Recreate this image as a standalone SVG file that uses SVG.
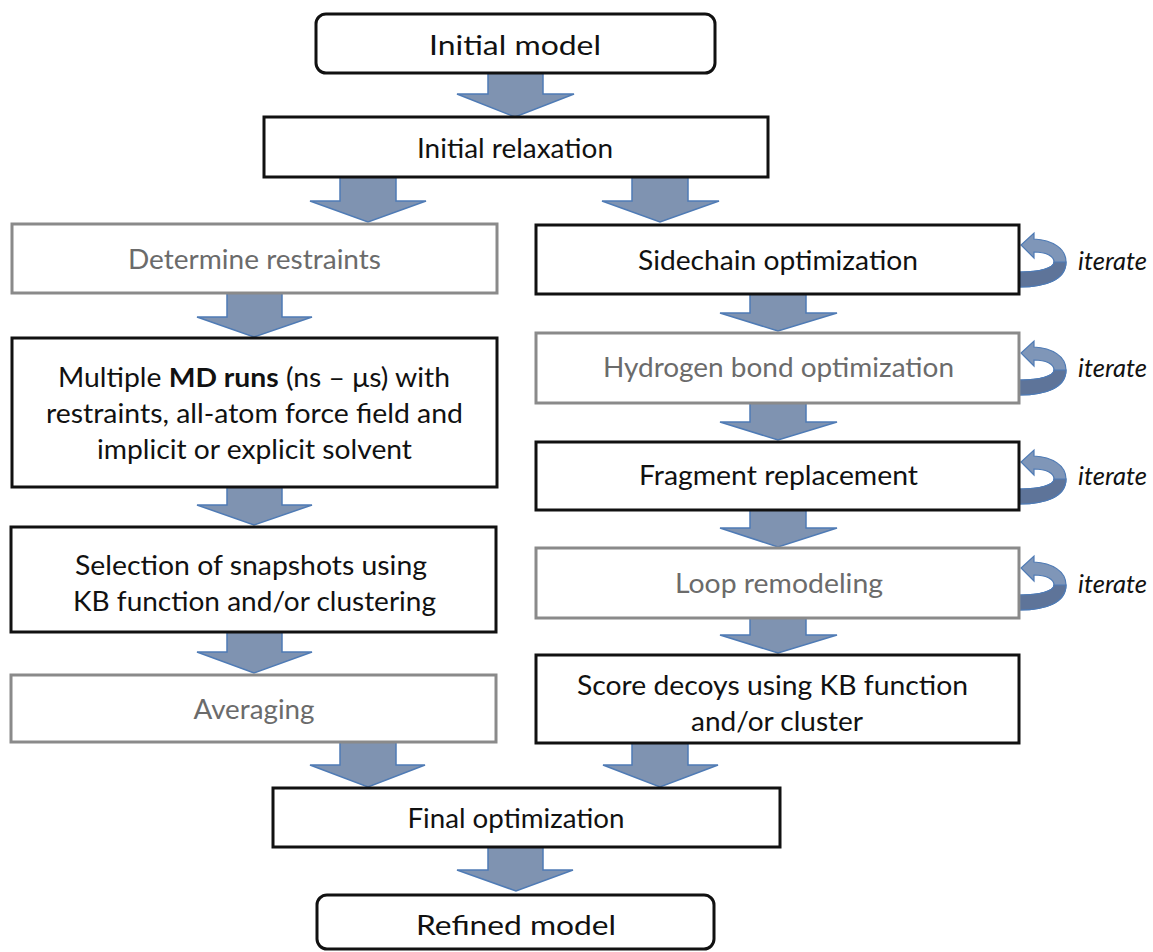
<svg xmlns="http://www.w3.org/2000/svg" xmlns:xlink="http://www.w3.org/1999/xlink" width="1153" height="952" viewBox="0 0 1153 952">
<style>
  .box { fill: #ffffff; stroke: #111111; stroke-width: 3; }
  .gbox { fill: #ffffff; stroke: #8a8a8a; stroke-width: 3; }
  .t { font-family: Lato, "Liberation Sans", sans-serif; font-size: 27px; fill: #111111; text-anchor: middle; }
  .g { fill: #6b6b6b; }
  .b { font-weight: bold; }
  .it { font-family: Lato, "Liberation Sans", sans-serif; font-size: 26px; font-style: italic; fill: #111111; }
  .arr { fill: #7f93b1; stroke: #4f7bb5; stroke-width: 1.5; stroke-linejoin: miter; }
  .loopL { fill: #7f96b8; stroke: #4f7bb5; stroke-width: 1.2; }
  .loopD { fill: #5e7499; stroke: #4f7bb5; stroke-width: 1.2; }
</style>
<defs>
  <g id="loop">
    <path class="loopL" d="M1020,287 C1045,287 1066,280 1066,262 C1066,248 1052,240 1034,239 L1034,233 L1021,245 L1034,258 L1034,252 C1046,252 1054,256 1054,262 C1054,268 1040,272 1020,272 Z"/>
    <path class="loopD" d="M1020,287 C1045,287 1066,280 1066,262 L1054,262 C1054,268 1040,272 1020,272 Z"/>
  </g>
</defs>

<g id="connectors">
  <polygon class="arr" points="488,73 543,73 543,94 574,94 515,117 457,94 488,94"/>
  <polygon class="arr" points="340,177 396,177 396,201 426,201 368,222 310,201 340,201"/>
  <polygon class="arr" points="632,177 688,177 688,201 719,201 660,222 602,201 632,201"/>
  <polygon class="arr" points="227,293 282,293 282,317 312,317 254,337 197,317 227,317"/>
  <polygon class="arr" points="227,487 282,487 282,505 312,505 254,525 197,505 227,505"/>
  <polygon class="arr" points="227,632 282,632 282,652 312,652 254,673 197,652 227,652"/>
  <polygon class="arr" points="750,294 806,294 806,313 837,313 778,331 720,313 750,313"/>
  <polygon class="arr" points="750,403 806,403 806,422 837,422 778,440 720,422 750,422"/>
  <polygon class="arr" points="750,510 806,510 806,528 837,528 778,547 720,528 750,528"/>
  <polygon class="arr" points="750,618 806,618 806,635 837,635 778,653 720,635 750,635"/>
  <polygon class="arr" points="340,742 396,742 396,765 425,765 368,787 310,765 340,765"/>
  <polygon class="arr" points="632,743 688,743 688,765 718,765 660,787 603,765 632,765"/>
  <polygon class="arr" points="488,847 543,847 543,870 573,870 516,891 457,870 488,870"/>
  <use xlink:href="#loop" href="#loop"/>
  <use xlink:href="#loop" href="#loop" transform="translate(0,108)"/>
  <use xlink:href="#loop" href="#loop" transform="translate(0,217)"/>
  <use xlink:href="#loop" href="#loop" transform="translate(0,323)"/>
</g>

<g id="initial-model">
  <rect class="box" x="316" y="14" width="399" height="59" rx="10"/>
  <text class="t" x="515" y="55" font-size="29" textLength="172" lengthAdjust="spacingAndGlyphs">Initial model</text>
</g>
<g id="initial-relaxation">
  <rect class="box" x="264" y="117" width="504" height="60"/>
  <text class="t" x="515" y="158" textLength="196" lengthAdjust="spacingAndGlyphs">Initial relaxation</text>
</g>
<g id="determine-restraints">
  <rect class="gbox" x="12" y="224" width="485" height="69"/>
  <text class="t g" x="254.5" y="269" textLength="253" lengthAdjust="spacingAndGlyphs">Determine restraints</text>
</g>
<g id="md-runs">
  <rect class="box" x="12" y="338" width="485" height="149"/>
  <text class="t" x="254" y="387" textLength="392" lengthAdjust="spacingAndGlyphs">Multiple <tspan class="b">MD runs</tspan> (ns – μs) with</text>
  <text class="t" x="254.5" y="423" textLength="417" lengthAdjust="spacingAndGlyphs">restraints, all-atom force field and</text>
  <text class="t" x="254.5" y="459" textLength="315" lengthAdjust="spacingAndGlyphs">implicit or explicit solvent</text>
</g>
<g id="selection">
  <rect class="box" x="11" y="527" width="485" height="105"/>
  <text class="t" x="251" y="575" textLength="352" lengthAdjust="spacingAndGlyphs">Selection of snapshots using</text>
  <text class="t" x="254.5" y="611" textLength="363" lengthAdjust="spacingAndGlyphs">KB function and/or clustering</text>
</g>
<g id="averaging">
  <rect class="gbox" x="11" y="675" width="485" height="67"/>
  <text class="t g" x="254" y="719" textLength="121" lengthAdjust="spacingAndGlyphs">Averaging</text>
</g>
<g id="sidechain">
  <rect class="box" x="536" y="225" width="483" height="69"/>
  <text class="t" x="778" y="270" textLength="280" lengthAdjust="spacingAndGlyphs">Sidechain optimization</text>
  <text class="it" x="1078" y="270" textLength="69" lengthAdjust="spacingAndGlyphs">iterate</text>
</g>
<g id="hydrogen">
  <rect class="gbox" x="536" y="333" width="483" height="70"/>
  <text class="t g" x="778.5" y="377" textLength="351" lengthAdjust="spacingAndGlyphs">Hydrogen bond optimization</text>
  <text class="it" x="1078" y="377" textLength="69" lengthAdjust="spacingAndGlyphs">iterate</text>
</g>
<g id="fragment">
  <rect class="box" x="536" y="442" width="483" height="68"/>
  <text class="t" x="778.5" y="485" textLength="279" lengthAdjust="spacingAndGlyphs">Fragment replacement</text>
  <text class="it" x="1078" y="485" textLength="69" lengthAdjust="spacingAndGlyphs">iterate</text>
</g>
<g id="loop-remodeling">
  <rect class="gbox" x="536" y="548" width="483" height="70"/>
  <text class="t g" x="779" y="593" textLength="208" lengthAdjust="spacingAndGlyphs">Loop remodeling</text>
  <text class="it" x="1078" y="593" textLength="69" lengthAdjust="spacingAndGlyphs">iterate</text>
</g>
<g id="score-decoys">
  <rect class="box" x="536" y="655" width="483" height="88"/>
  <text class="t" x="772.5" y="695" textLength="391" lengthAdjust="spacingAndGlyphs">Score decoys using KB function</text>
  <text class="t" x="777" y="731" textLength="172" lengthAdjust="spacingAndGlyphs">and/or cluster</text>
</g>
<g id="final-optimization">
  <rect class="box" x="273" y="788" width="507" height="59"/>
  <text class="t" x="516" y="828" textLength="217" lengthAdjust="spacingAndGlyphs">Final optimization</text>
</g>
<g id="refined-model">
  <rect class="box" x="317" y="895" width="397" height="54" rx="10"/>
  <text class="t" x="516" y="935" textLength="200" lengthAdjust="spacingAndGlyphs">Refined model</text>
</g>
</svg>
